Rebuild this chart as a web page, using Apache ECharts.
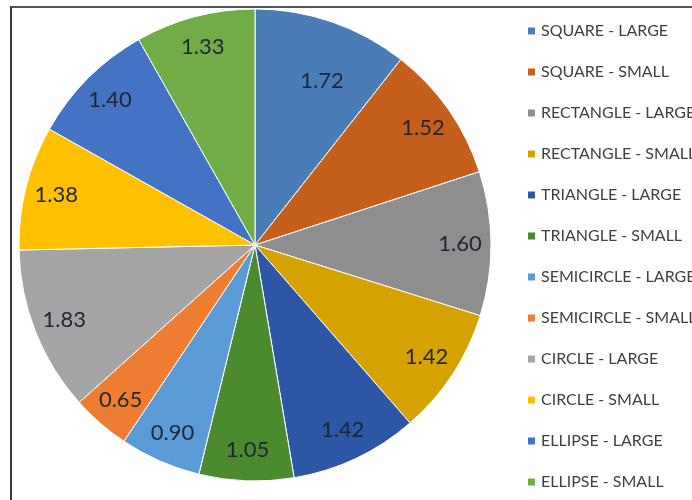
<!DOCTYPE html>
<html>
<head>
<meta charset="utf-8">
<script src="https://cdn.jsdelivr.net/npm/echarts@6/dist/echarts.min.js"></script>
<style>
html, body { margin: 0; padding: 0; background: #fff; }
#frame {
    position: absolute; left: 10px; top: 6px; width: 700px; height: 520px;
    border-left: 2px solid #3a3a3a; border-top: 2px solid #555;
}
#chart { position: absolute; left: 0; top: 0; width: 692px; height: 500px; }
</style>
</head>
<body>
<div id="frame"></div>
<div id="chart"></div>
<script>
// shape categories, clockwise from 12 o'clock
var shapes = ['SQUARE - LARGE', 'SQUARE - SMALL', 'RECTANGLE - LARGE', 'RECTANGLE - SMALL',
    'TRIANGLE - LARGE', 'TRIANGLE - SMALL', 'SEMICIRCLE - LARGE', 'SEMICIRCLE - SMALL',
    'CIRCLE - LARGE', 'CIRCLE - SMALL', 'ELLIPSE - LARGE', 'ELLIPSE - SMALL'];
var values = [1.72, 1.52, 1.60, 1.42, 1.42, 1.05, 0.90, 0.65, 1.83, 1.38, 1.40, 1.33];
var colors = ['#4a7db8', '#c65f1c', '#8e8e8e', '#d6a200', '#2e56a6', '#4b8a2f',
    '#5b9bd5', '#ed7d31', '#a5a5a5', '#ffc000', '#4472c4', '#70ad47'];

var pieData = shapes.map(function (s, i) {
    return { name: s, value: values[i] };
});
var labelData = shapes.map(function (s, i) {
    var d = { name: s, value: values[i] };
    if (i === 0) d.label = { offset: [0, 30] };
    return d;
});

var chart = echarts.init(document.getElementById('chart'));
chart.setOption({
    color: colors,
    animation: false,
    legend: {
        orient: 'vertical',
        left: 526,
        top: 23,
        padding: 0,
        data: shapes,
        icon: 'rect',
        itemWidth: 9,
        itemHeight: 9,
        itemGap: 25,
        selectedMode: false,
        textStyle: { fontFamily: 'Lato', fontSize: 16, color: '#404040' }
    },
    series: [
        {
            type: 'pie',
            center: [255, 245],
            radius: [0, 236],
            startAngle: 90,
            clockwise: true,
            avoidLabelOverlap: false,
            itemStyle: { borderColor: '#fff', borderWidth: 1 },
            label: { show: false },
            labelLine: { show: false },
            data: pieData
        },
        {
            type: 'pie',
            silent: true,
            center: [255, 245],
            radius: [168, 236],
            startAngle: 90,
            clockwise: true,
            avoidLabelOverlap: false,
            itemStyle: { color: 'rgba(0,0,0,0)' },
            label: {
                show: true,
                position: 'inside',
                fontFamily: 'Lato',
                fontSize: 22,
                color: '#1e2633',
                formatter: function (p) { return p.value.toFixed(2); }
            },
            labelLine: { show: false },
            data: labelData
        }
    ]
});
</script>
</body>
</html>
